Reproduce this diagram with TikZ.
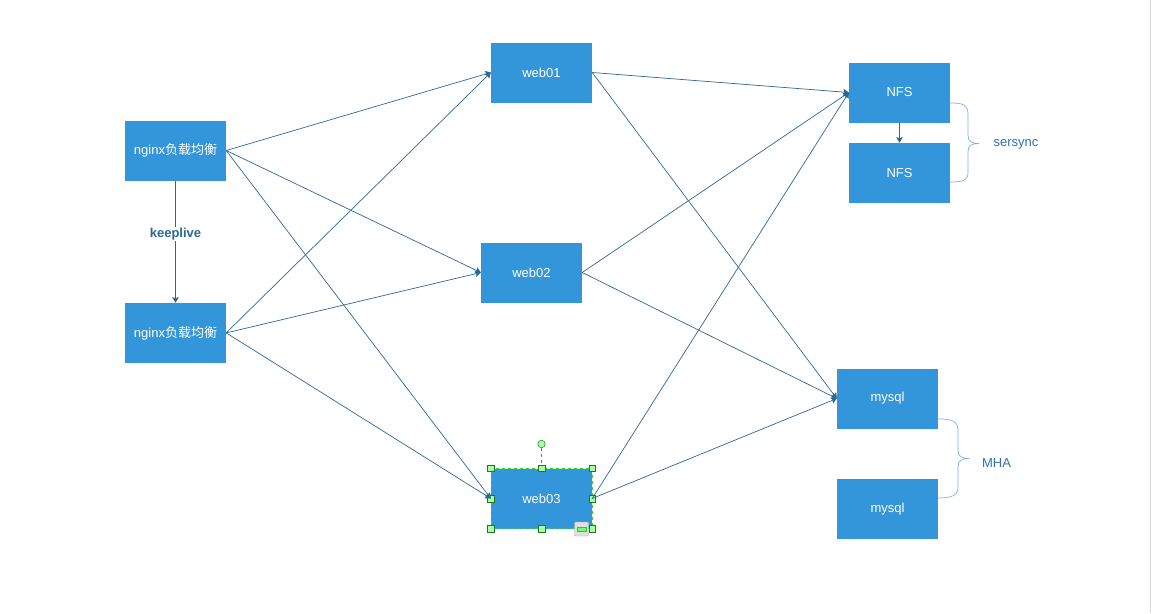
\documentclass[tikz,border=0pt]{standalone}
\usepackage{fontspec}
\setmainfont{Liberation Sans}
\newfontfamily\cjk{Noto Sans CJK SC}
\usepackage{xcolor}
\usetikzlibrary{arrows.meta,positioning}
\definecolor{boxblue}{RGB}{52,150,218}
\definecolor{linkblue}{RGB}{44,104,150}
\definecolor{braceblue}{RGB}{130,175,225}
\definecolor{labelblue}{RGB}{50,110,175}
\definecolor{selgreen}{RGB}{40,215,40}
\definecolor{handlegreen}{RGB}{30,120,30}

\begin{document}
\begin{tikzpicture}[
  x=1pt, y=-1pt,
  box/.style={fill=boxblue, text=white, font=\fontsize{13}{15}\selectfont,
    minimum width=101pt, minimum height=60pt, inner sep=0pt},
  link/.style={draw=linkblue, line width=0.7pt, -{Stealth[length=5.5pt,width=6.5pt,inset=1pt]}},
  curly/.style={draw=braceblue, line width=0.7pt},
  grouplabel/.style={text=labelblue, font=\fontsize{13}{15}\selectfont},
  handle/.style={draw=handlegreen, fill=green!35, line width=0.5pt,
    minimum size=6.5pt, inner sep=0pt}
]
% canvas
\fill[white] (0,0) rectangle (1151,612);
\draw[black!15, line width=1pt] (1150.5,0) -- (1150.5,612);
\useasboundingbox (0,0) rectangle (1151,612);

% load balancers
\node[box] (nginxA) at (175.5,150) {nginx{\cjk 负载均衡}};
\node[box, below=122pt of nginxA] (nginxB) {nginx{\cjk 负载均衡}};

% web servers
\node[box] (webA) at (541.5,72) {web01};
\node[box] (webB) at (531.5,272) {web02};
\node[box] (webC) at (541.5,498) {web03};

% storage
\node[box] (nfsA) at (899.5,92) {NFS};
\node[box, below=20pt of nfsA] (nfsB) {NFS};
\node[box] (dbA) at (887.5,398) {mysql};
\node[box, below=50pt of dbA] (dbB) {mysql};

% selection marks on web03
\draw[selgreen, dashed, line width=0.6pt] (webC.south west) rectangle (webC.north east);
\draw[black!55, dashed, line width=0.5pt] (541.5,447) -- (webC.north);
\foreach \p in {north west,north,north east,west,east,south west,south,south east}
  \node[handle] at (webC.\p) {};
\node[handle, circle, minimum size=7.5pt] (rot) at (541.5,443.5) {};
\node[draw=black!35, fill=black!12, minimum size=14pt, inner sep=0pt, rounded corners=1pt] (icon) at (581.5,528.5) {};
\fill[green!70!black!80] (576.5,526.5) rectangle (586.5,531);
\fill[green!55] (577.5,527.3) rectangle (585.5,530.2);

% keepalive pair
\draw[link] (nginxA.south) -- (nginxB.north)
  node[pos=0.434, text=linkblue, font=\bfseries\fontsize{13}{15}\selectfont, fill=white, inner sep=1pt] {keeplive};

% balancers to web servers
\foreach \src in {nginxA,nginxB}
  \foreach \dst in {webA,webB,webC}
    \draw[link] (\src.east) -- (\dst.west);

% web servers to storage
\foreach \src in {webA,webB,webC}
{
  \draw[link] (\src.east) -- (nfsA.west);
  \draw[link] (\src.east) -- (dbA.west);
}

\draw[link] (nfsA.south) -- (nfsB.north);

% braces
\draw[curly] (950,102.5) .. controls (963,102.5) and (968,104) .. (968,114)
  -- (968,135) .. controls (968,141) and (972,143) .. (979,143)
  .. controls (972,143) and (968,145) .. (968,151)
  -- (968,172) .. controls (968,180) and (963,181.5) .. (950,181.5);
\node[grouplabel] (syncLbl) at (1016,144) {sersync};

\draw[curly] (938,418.5) .. controls (951,418.5) and (958,420) .. (958,430)
  -- (958,450) .. controls (958,456) and (962,458) .. (969,458)
  .. controls (962,458) and (958,460) .. (958,466)
  -- (958,487) .. controls (958,495) and (951,497.5) .. (938,497.5);
\node[grouplabel] (mhaLbl) at (996.5,463) {MHA};
\end{tikzpicture}
\end{document}
